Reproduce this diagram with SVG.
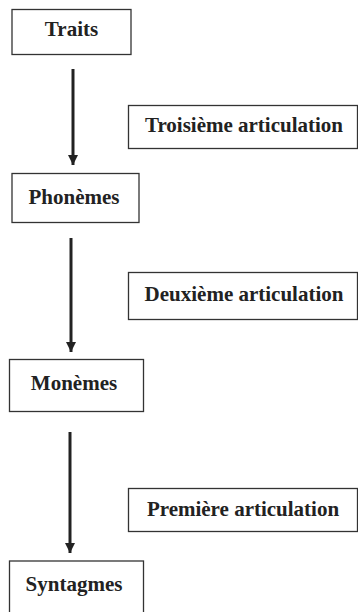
<svg xmlns="http://www.w3.org/2000/svg" width="358" height="612" viewBox="0 0 358 612">
<style>
.box{fill:#fff;stroke:#333;stroke-width:1.3}
.t{font-family:"Liberation Serif","Times New Roman",serif;font-weight:bold;font-size:21px;fill:#222;text-anchor:middle}
.c{stroke:#222;stroke-width:3;fill:none}
</style>
<defs>
<marker id="ah" markerUnits="userSpaceOnUse" markerWidth="12" markerHeight="12" refX="10" refY="5" orient="auto">
<path d="M0,0 L10,5 L0,10 Z" fill="#222"/>
</marker>
</defs>
<rect width="358" height="612" fill="#fff"/>
<g id="connectors">
<line class="c" x1="73" y1="69" x2="73" y2="165" marker-end="url(#ah)"/>
<line class="c" x1="71" y1="238" x2="71" y2="352" marker-end="url(#ah)"/>
<line class="c" x1="70" y1="432" x2="70" y2="553" marker-end="url(#ah)"/>
</g>
<g id="traits"><rect class="box" x="12" y="9.5" width="119" height="45"/><text class="t" x="71.5" y="36">Traits</text></g>
<g id="troisieme"><rect class="box" x="128.5" y="105.5" width="229" height="43"/><text class="t" x="244" y="132">Troisième articulation</text></g>
<g id="phonemes"><rect class="box" x="12" y="173.5" width="127" height="49"/><text class="t" x="74" y="204">Phonèmes</text></g>
<g id="deuxieme"><rect class="box" x="128.5" y="272.5" width="229" height="47"/><text class="t" x="244" y="301">Deuxième articulation</text></g>
<g id="monemes"><rect class="box" x="9.5" y="359.5" width="134" height="52"/><text class="t" x="74" y="390">Monèmes</text></g>
<g id="premiere"><rect class="box" x="128.5" y="488.5" width="229" height="43"/><text class="t" x="243" y="516">Première articulation</text></g>
<g id="syntagmes"><rect class="box" x="9.5" y="561" width="134" height="52"/><text class="t" x="74" y="591">Syntagmes</text></g>
</svg>
